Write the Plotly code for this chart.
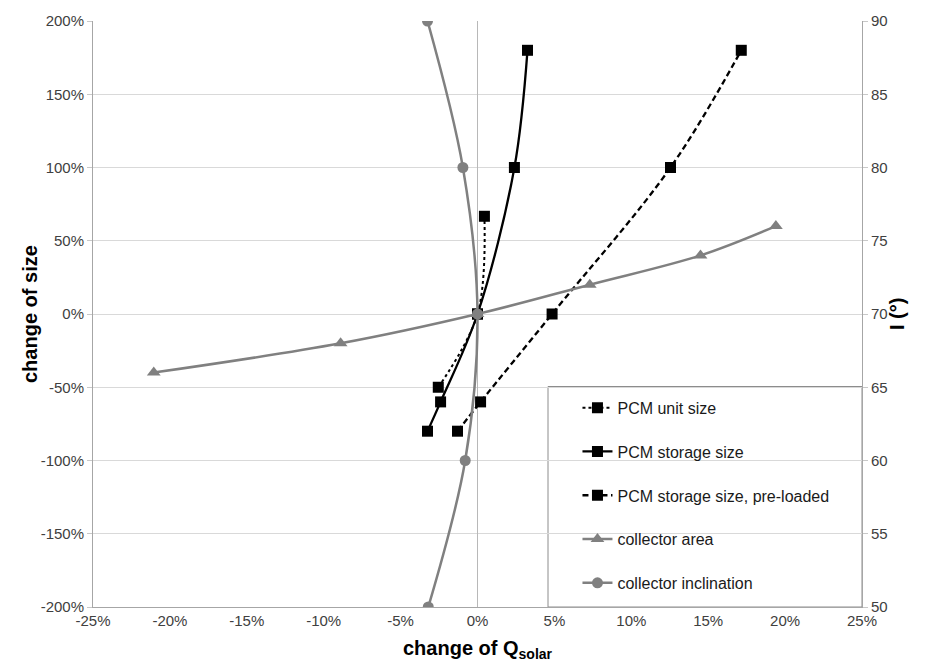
import plotly.graph_objects as go

# change of Q_solar (%) vs. change of size (%) for the PCM variants and collector area
pcm_unit_x = [-2.55, 0.0, 0.45]
pcm_unit_y = [-50, 0, 66.7]

pcm_storage_x = [-3.25, -2.4, 0.0, 2.4, 3.25]
pcm_storage_y = [-80, -60, 0, 100, 180]

pcm_pre_x = [-1.3, 0.2, 4.85, 12.55, 17.15]
pcm_pre_y = [-80, -60, 0, 100, 180]

coll_area_x = [-21.05, -8.9, 0.0, 7.3, 14.5, 19.4]
coll_area_y = [-40, -20, 0, 20, 40, 60]

# collector inclination I (°) on the secondary axis
coll_incl_x = [-3.25, -0.95, 0.0, -0.8, -3.2]
coll_incl_i = [90, 80, 70, 60, 50]

x_ticks = list(range(-25, 30, 5))
y_ticks = list(range(-200, 250, 50))
y2_ticks = list(range(50, 95, 5))

FONT = "Liberation Sans, Arial, sans-serif"
BLACK = "#000000"
GREY = "#808080"

fig = go.Figure()

fig.add_trace(go.Scatter(
    x=pcm_unit_x, y=pcm_unit_y, name="PCM unit size", mode="lines+markers",
    line=dict(color=BLACK, width=2, dash="dot", shape="spline"),
    marker=dict(symbol="square", size=11, color=BLACK),
    legendgroup="a"))
fig.add_trace(go.Scatter(
    x=pcm_storage_x, y=pcm_storage_y, name="PCM storage size", mode="lines+markers",
    line=dict(color=BLACK, width=2.3, shape="spline"),
    marker=dict(symbol="square", size=11, color=BLACK),
    legendgroup="b"))
fig.add_trace(go.Scatter(
    x=pcm_pre_x, y=pcm_pre_y, name="PCM storage size, pre-loaded", mode="lines+markers",
    line=dict(color=BLACK, width=2.3, dash="6px,3.5px", shape="spline"),
    marker=dict(symbol="square", size=11, color=BLACK),
    legendgroup="c"))
fig.add_trace(go.Scatter(
    x=coll_area_x, y=coll_area_y, name="collector area", mode="lines+markers",
    line=dict(color=GREY, width=2.5, shape="spline"),
    marker=dict(symbol="triangle-up", size=12, color=GREY),
    legendgroup="d"))
fig.add_trace(go.Scatter(
    x=coll_incl_x, y=coll_incl_i, name="collector inclination", mode="lines+markers",
    line=dict(color=GREY, width=2.5, shape="spline"),
    marker=dict(symbol="circle", size=11, color=GREY),
    yaxis="y2", legendgroup="e"))

tick_font = dict(family=FONT, size=15, color="#404040")
title_font = dict(family=FONT, size=20, color="#000000")

fig.update_layout(
    width=925, height=670,
    margin=dict(l=93, r=63, t=17, b=63),
    paper_bgcolor="white", plot_bgcolor="white",
    showlegend=True,
    xaxis=dict(
        range=[-25, 25], tickvals=x_ticks, ticktext=[f"{v}%" for v in x_ticks],
        showgrid=False, zeroline=True, zerolinecolor="#b8b8b8", zerolinewidth=1,
        showline=True, linecolor="#a6a6a6", linewidth=1, ticks="",
        tickfont=tick_font, fixedrange=True),
    # tick marks drawn along the y = 0 line
    xaxis2=dict(
        overlaying="x", matches="x", anchor="free", position=0.5, side="bottom",
        range=[-25, 25], tickvals=x_ticks, showticklabels=False,
        ticks="outside", ticklen=4, tickcolor="#b0b0b0", tickwidth=1,
        showgrid=False, zeroline=False, showline=False),
    yaxis=dict(
        range=[-200, 200], tickvals=y_ticks, ticktext=[f"{v}%" for v in y_ticks],
        showgrid=True, gridcolor="#d9d9d9", gridwidth=1, zeroline=False,
        showline=True, linecolor="#a6a6a6", linewidth=1,
        ticks="outside", ticklen=5, tickcolor="#c8c8c8",
        tickfont=tick_font),
    yaxis2=dict(
        range=[50, 90], tickvals=y2_ticks, ticktext=[str(v) for v in y2_ticks],
        overlaying="y", side="right", showgrid=False, zeroline=False,
        showline=True, linecolor="#a6a6a6", linewidth=1,
        ticks="outside", ticklen=5, tickcolor="#c8c8c8",
        tickfont=tick_font),
    legend=dict(
        x=0.630, y=0.369, xanchor="left", yanchor="top",
        bgcolor="rgba(0,0,0,0)", borderwidth=0,
        font=dict(family=FONT, size=16, color="#1a1a1a"),
        traceorder="grouped", tracegroupgap=20),
    shapes=[dict(
        type="rect", xref="paper", yref="paper",
        x0=(548 - 93) / 769, x1=1.0, y0=0.0, y1=(607 - 385) / 590,
        line=dict(color="#8c8c8c", width=1), fillcolor="white", layer="between")],
    annotations=[
        dict(text="<b>change of size</b>", xref="paper", yref="paper",
             x=-(93 - 30) / 769, y=0.5, textangle=-90, showarrow=False,
             font=title_font, xanchor="center", yanchor="middle"),
        dict(text="<b>change of Q<sub>solar</sub></b>", xref="paper", yref="paper",
             x=0.5, y=-(650 - 607) / 590, showarrow=False,
             font=title_font, xanchor="center", yanchor="middle"),
        dict(text="<b>I (°)</b>", xref="paper", yref="paper",
             x=1 + (897 - 862) / 769, y=0.5, textangle=-90, showarrow=False,
             font=title_font, xanchor="center", yanchor="middle"),
    ],
)

fig.write_html("out.html")
